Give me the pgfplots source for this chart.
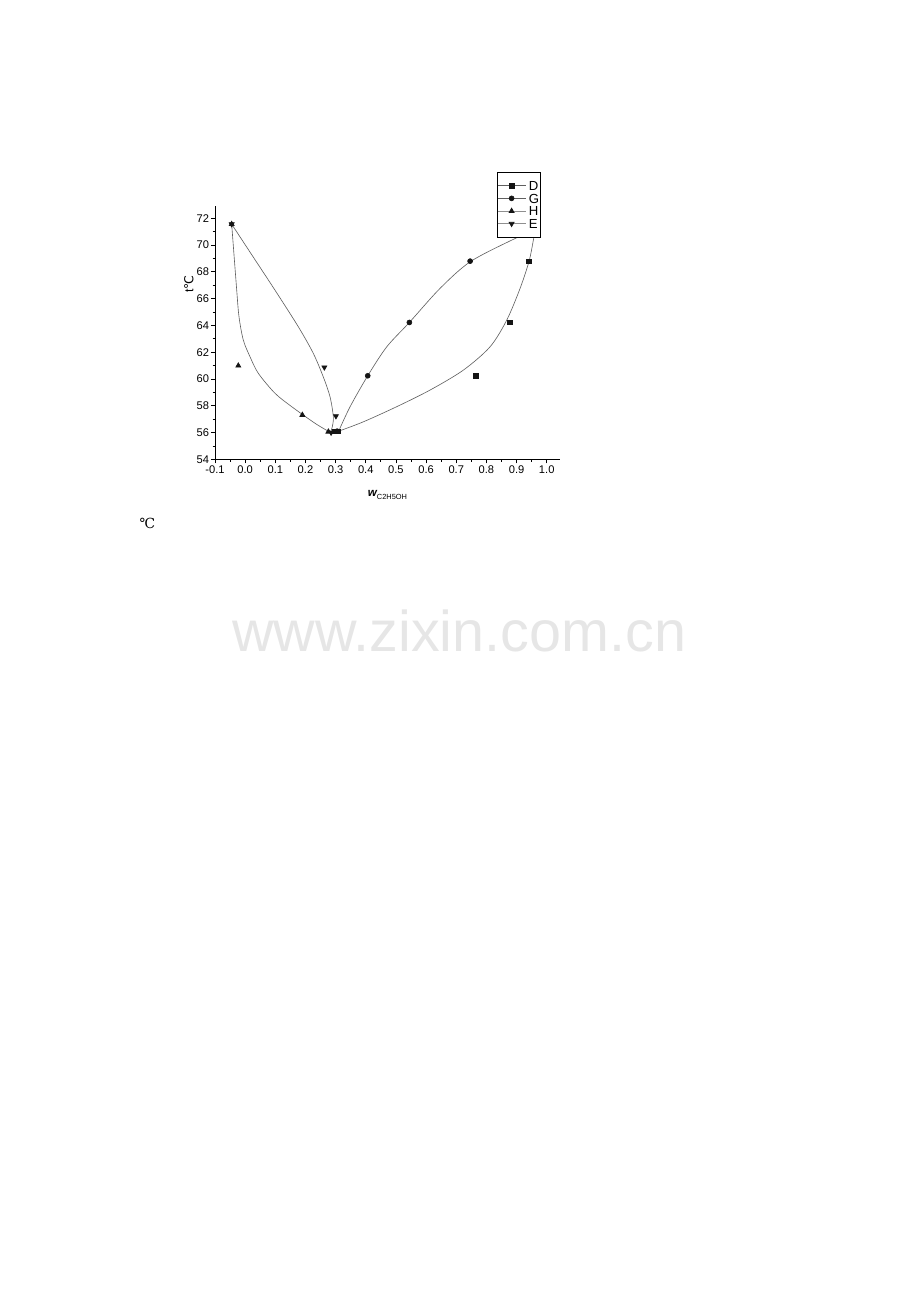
\documentclass[border=0pt]{standalone}
\usepackage{fontspec}
\setmainfont{Liberation Sans}
\newfontfamily\dejavuserif{DejaVu Serif}
\newfontfamily\dejavusans{DejaVu Sans}
\usepackage{pgfplots}
\pgfplotsset{compat=1.18}

\definecolor{curvegray}{RGB}{95,95,95}
\definecolor{markgray}{RGB}{20,20,20}
\definecolor{wmgray}{RGB}{230,230,230}

\begin{document}
\begin{tikzpicture}
\useasboundingbox (0pt,0pt) rectangle (595pt,-842pt);

% watermark and the stray degree sign below the chart
\node[anchor=base west, inner sep=0pt, text=wmgray,
      font=\fontsize{37.2}{37.2}\selectfont] at (150pt,-421.4pt) {www.zixin.com.cn};
\node[inner sep=0pt, font=\dejavuserif\fontsize{9}{9}\selectfont] at (95.4pt,-338.5pt) {℃};

\begin{axis}[
scale only axis,
width=223.1pt, height=164.0pt,
at={(139.04pt,-297.03pt)}, anchor=south west,
clip=false,
xmin=-0.1, xmax=1.044,
ymin=54, ymax=72.94,
axis x line*=bottom, axis y line*=left,
axis line style={-, line width=0.6pt},
tick align=outside,
major tick length=2.7pt, minor tick length=1.6pt,
tick style={black, line width=0.5pt},
xtick={-0.1,0,0.1,0.2,0.3,0.4,0.5,0.6,0.7,0.8,0.9,1.0},
xticklabels={-0.1,0.0,0.1,0.2,0.3,0.4,0.5,0.6,0.7,0.8,0.9,1.0},
ytick={54,56,58,60,62,64,66,68,70,72},
yticklabels={54,56,58,60,62,64,66,68,70,72},
minor x tick num=1, minor y tick num=1,
ticklabel style={font=\fontsize{7.2}{7.2}\selectfont},
xticklabel style={inner sep=1pt},
yticklabel style={inner sep=1pt},
xlabel={{\fontsize{7.5}{7.5}\selectfont\bfseries\itshape w}\raisebox{-1.6pt}{\fontsize{4.8}{4.8}\selectfont C2H5OH}},
xlabel style={at={(rel axis cs:0.5,-0.141)}, anchor=center, inner sep=0pt},
ylabel={t{\dejavusans ℃}},
ylabel style={at={(rel axis cs:-0.0754,0.691)}, anchor=center, inner sep=0pt,
              font=\fontsize{8}{8}\selectfont},
legend image code/.code={\draw[mark repeat=2, mark phase=2, #1]
    plot coordinates {(0pt,0pt) (9pt,0pt) (18pt,0pt)};},
legend style={at={(0.8174,1.1329)}, anchor=north west,
    draw=black, line width=0.5pt, fill=white,
    font=\fontsize{8.5}{8.5}\selectfont,
    inner xsep=0pt, inner ysep=4.5pt, row sep=0pt, column sep=1pt,
    nodes={inner sep=0.9pt, text height=6.4pt, text depth=0pt},
    cells={anchor=west}},
]

% legend samples: line with the marker in its middle
\addlegendimage{curvegray, line width=0.4pt, mark=square*, mark size=1.5pt, mark options={solid, markgray}}
\addlegendentry{D}
\addlegendimage{curvegray, line width=0.4pt, mark=*, mark size=1.6pt, mark options={solid, markgray}}
\addlegendentry{G}
\addlegendimage{curvegray!70, line width=0.4pt, mark=triangle*, mark size=1.9pt, mark options={solid, markgray}}
\addlegendentry{H}
\addlegendimage{curvegray!70, line width=0.4pt, mark=triangle*, mark size=1.9pt, mark options={solid, markgray, rotate=180}}
\addlegendentry{E}

% fitted curves
\addplot[curvegray, line width=0.4pt, smooth, forget plot] coordinates {
(-0.0447,71.56) (-0.028,66.63) (-0.0204,64.64) (-0.0061,62.9) (0.0161,61.66)
(0.0437,60.42) (0.099,58.93) (0.1544,57.93) (0.2317,56.69) (0.283,56.0)
};
\addplot[curvegray, line width=0.4pt, smooth, forget plot] coordinates {
(-0.0447,71.56) (0.027,69.1) (0.099,66.63) (0.1763,63.9) (0.226,61.91)
(0.259,60.16) (0.2814,58.67) (0.2924,57.18) (0.289,56.43) (0.283,56.0)
};
\addplot[curvegray, line width=0.4pt, smooth, forget plot] coordinates {
(0.31,56.1) (0.348,57.93) (0.4065,60.24) (0.4695,62.4) (0.5445,64.22)
(0.646,66.76) (0.746,68.75) (0.884,70.37) (0.95,71.0)
};
\addplot[curvegray, line width=0.4pt, smooth, forget plot] coordinates {
(0.31,56.1) (0.392,56.8) (0.5026,57.93) (0.613,59.17) (0.7235,60.66)
(0.812,62.4) (0.8675,64.4) (0.9116,66.76) (0.9415,68.8) (0.9557,70.37) (0.962,71.2)
};

% measured points
\addplot[only marks, mark=square*, mark size=1.5pt, markgray, forget plot] coordinates {
(0.298,56.1) (0.309,56.1) (0.764,60.24) (0.878,64.22) (0.9415,68.8)
};
\addplot[only marks, mark=*, mark size=1.6pt, markgray, forget plot] coordinates {
(0.305,56.1) (0.4065,60.24) (0.5445,64.22) (0.746,68.8)
};
\addplot[only marks, mark=triangle*, mark size=1.9pt, markgray, forget plot] coordinates {
(-0.0447,71.56) (-0.0227,60.99) (0.1897,57.31) (0.276,56.06)
};
\addplot[only marks, mark=triangle*, mark size=1.9pt, markgray, mark options={rotate=180}, forget plot] coordinates {
(-0.0447,71.56) (0.2626,60.87) (0.301,57.23) (0.285,56.0)
};

\end{axis}
\end{tikzpicture}
\end{document}
